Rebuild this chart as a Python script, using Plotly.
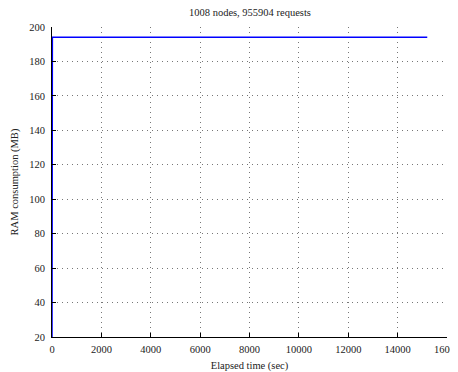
import plotly.graph_objects as go

elapsed_sec = [0, 15, 15200]
ram_mb = [20, 194, 194]

x_ticks = [0, 2000, 4000, 6000, 8000, 10000, 12000, 14000, 16000]
y_ticks = [20, 40, 60, 80, 100, 120, 140, 160, 180, 200]

font = dict(family="Liberation Serif, DejaVu Serif, serif", size=10.5, color="#222")

fig = go.Figure()
fig.add_trace(go.Scatter(x=elapsed_sec, y=ram_mb, mode="lines",
                         line=dict(color="#0000ff", width=1.5), showlegend=False,
                         cliponaxis=False))

axis_common = dict(showline=True, linecolor="black", linewidth=1, ticks="inside",
                   ticklen=4, tickcolor="black", showgrid=True, gridcolor="#777",
                   griddash="1px,4px", gridwidth=1, zeroline=False, mirror=False,
                   tickfont=font, automargin=False, layer="above traces")

fig.update_xaxes(range=[0, 16000], tickvals=x_ticks, ticktext=[str(v) for v in x_ticks],
                 ticklabeloverflow="allow", ticklabelstandoff=2,
                 title=dict(text="Elapsed time (sec)", font=font, standoff=9), **axis_common)
fig.update_yaxes(range=[20, 200], tickvals=y_ticks, ticktext=[str(v) for v in y_ticks],
                 ticklabelstandoff=4,
                 title=dict(text="RAM consumption (MB)", font=font, standoff=8), **axis_common)

fig.update_layout(
    width=450, height=364,
    margin=dict(l=44, r=11, t=19, b=35),
    paper_bgcolor="white", plot_bgcolor="white",
    font=font,
    annotations=[dict(text="1008 nodes, 955904 requests", xref="paper", yref="paper",
                      x=0.5, y=1.048, xanchor="center", yanchor="middle",
                      showarrow=False, font=font)],
)

fig.write_html("out.html")
